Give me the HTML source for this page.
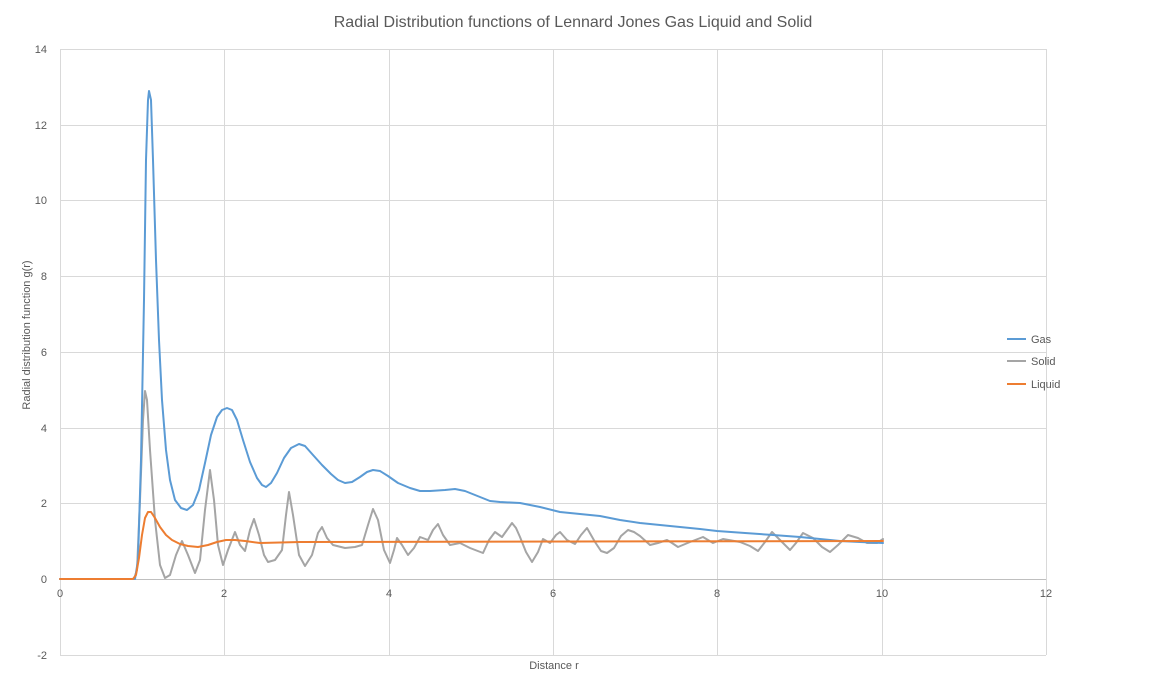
<!DOCTYPE html>
<html><head><meta charset="utf-8"><style>body{margin:0;background:#fff}svg{display:block}text{font-family:"Liberation Sans",sans-serif;fill:#595959}</style></head><body>
<svg width="1152" height="690" xmlns="http://www.w3.org/2000/svg">
<rect width="1152" height="690" fill="#fff"/>
<g stroke="#d9d9d9" stroke-width="1">
<line x1="60" y1="49.5" x2="1046" y2="49.5"/><line x1="60" y1="125.5" x2="1046" y2="125.5"/><line x1="60" y1="200.5" x2="1046" y2="200.5"/><line x1="60" y1="276.5" x2="1046" y2="276.5"/><line x1="60" y1="352.5" x2="1046" y2="352.5"/><line x1="60" y1="428.5" x2="1046" y2="428.5"/><line x1="60" y1="503.5" x2="1046" y2="503.5"/><line x1="60" y1="655.5" x2="1046" y2="655.5"/>
<line x1="60.5" y1="49" x2="60.5" y2="655"/><line x1="224.5" y1="49" x2="224.5" y2="655"/><line x1="389.5" y1="49" x2="389.5" y2="655"/><line x1="553.5" y1="49" x2="553.5" y2="655"/><line x1="717.5" y1="49" x2="717.5" y2="655"/><line x1="882.5" y1="49" x2="882.5" y2="655"/><line x1="1046.5" y1="49" x2="1046.5" y2="655"/>
</g>
<line x1="60" y1="579.5" x2="1046" y2="579.5" stroke="#bfbfbf"/>
<g font-size="11" text-anchor="end">
<text x="47" y="53">14</text><text x="47" y="129">12</text><text x="47" y="204">10</text><text x="47" y="280">8</text><text x="47" y="356">6</text><text x="47" y="432">4</text><text x="47" y="507">2</text><text x="47" y="583">0</text><text x="47" y="659">-2</text>
</g>
<g font-size="11" text-anchor="middle">
<text x="60" y="597">0</text><text x="224" y="597">2</text><text x="389" y="597">4</text><text x="553" y="597">6</text><text x="717" y="597">8</text><text x="882" y="597">10</text><text x="1046" y="597">12</text>
</g>
<text x="573" y="27" font-size="16" text-anchor="middle">Radial Distribution functions of Lennard Jones Gas Liquid and Solid</text>
<text x="554" y="669" font-size="11" text-anchor="middle">Distance r</text>
<text transform="translate(30,335) rotate(-90)" font-size="11" text-anchor="middle">Radial distribution function g(r)</text>
<g fill="none" stroke-width="2" stroke-linejoin="round" stroke-linecap="round">
<polyline stroke="#a5a5a5" points="60,579 134,579 137,570 140,500 143,420 145,391 147,400 150,450 155,520 160,565 165,578 170,575 176,555 182,541 188,555 195,573 200,560 205,510 210,470 214,500 218,545 223,565 228,550 235,532 240,545 245,551 250,530 254,519 259,535 264,555 268,562 275,560 282,550 286,515 289,492 293,515 299,555 305,566 312,555 318,533 322,527 327,538 333,545 345,548 355,547 362,545 368,525 373,509 378,520 384,550 390,563 394,550 397,538 402,545 408,555 414,548 420,537 428,540 433,530 438,524 443,535 450,545 460,543 470,548 483,553 489,540 495,532 502,537 507,530 512,523 516,528 520,537 526,552 532,562 538,552 543,539 550,543 556,535 560,532 567,540 575,544 581,535 587,528 595,542 601,551 607,553 614,548 621,536 628,530 634,532 640,536 650,545 658,543 667,540 672,543 678,547 690,542 703,537 713,543 723,539 740,542 750,546 758,551 765,542 772,532 780,540 790,550 796,543 803,533 813,538 822,547 830,552 838,545 848,535 858,538 867,543 877,543 883,539"/>
<polyline stroke="#5b9bd5" points="60,579 135,579 138,560 141,460 144,300 146,160 148,100 149,91 151,100 153,160 156,260 159,340 162,400 166,450 170,480 175,500 181,508 187,510 193,505 199,490 205,463 211,435 217,417 222,410 227,408 232,410 237,420 243,440 250,462 257,478 262,485 266,487 271,483 277,473 284,458 291,448 299,444 305,446 313,455 322,465 331,474 338,480 345,483 352,482 360,477 367,472 373,470 380,471 388,476 398,483 410,488 420,491 430,491 445,490 455,489 465,491 480,497 490,501 500,502 520,503 540,507 560,512 580,514 600,516 620,520 640,523 660,525 680,527 700,529 717,531 745,533 773,535 800,537 820,539 840,541 860,542 883,543"/>
<polyline stroke="#ed7d31" points="60,579 133,579 136,575 139,558 142,535 145,518 148,512 151,512 155,518 160,527 166,535 172,540 180,544 188,546 198,547 208,545 217,542 226,540 235,540 245,541 260,543 300,542 883,541"/>
</g>
<g stroke-width="2"><line x1="1007" y1="339" x2="1026" y2="339" stroke="#5b9bd5"/><line x1="1007" y1="361" x2="1026" y2="361" stroke="#a5a5a5"/><line x1="1007" y1="384" x2="1026" y2="384" stroke="#ed7d31"/></g>
<g font-size="11"><text x="1031" y="343">Gas</text><text x="1031" y="365">Solid</text><text x="1031" y="388">Liquid</text></g>
</svg>
</body></html>
